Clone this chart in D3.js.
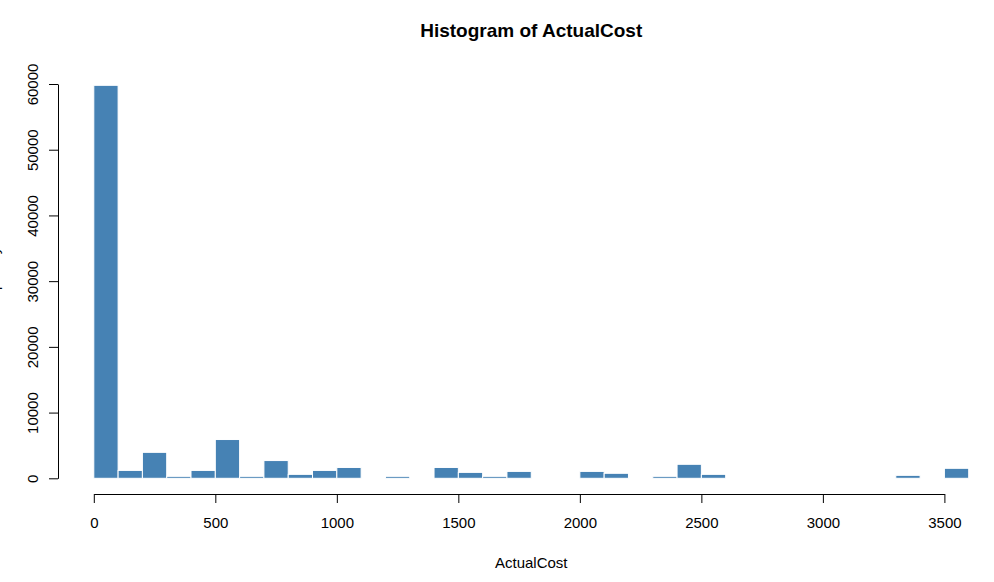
<!DOCTYPE html>
<html>
<head>
<meta charset="utf-8">
<script src="https://cdn.jsdelivr.net/npm/d3@7"></script>
<style>
  html, body { margin: 0; padding: 0; background: #fff; }
  svg { display: block; }
  text { font-family: "Liberation Sans", Arial, sans-serif; fill: #000; }
</style>
</head>
<body>
<svg id="chart" width="994" height="582"></svg>
<script>
// ---- data ----
const binStarts = d3.range(0, 3600, 100);
const counts = [
  59800, 1200, 3950, 300, 1200, 5900, 300, 2700, 600, 1200,
  1650, 0, 300, 0, 1650, 900, 300, 1050, 0, 0,
  1050, 760, 0, 300, 2130, 600, 0, 0, 0, 0,
  0, 0, 0, 450, 0, 1520
];
const binWidth = 100;
const xTicks = [0, 500, 1000, 1500, 2000, 2500, 3000, 3500];
const yTicks = [0, 10000, 20000, 30000, 40000, 50000, 60000];
const title = "Histogram of ActualCost";
const xLabel = "ActualCost";
const yLabel = "Frequency";

const bins = binStarts.map((s, i) => ({ x0: s, x1: s + binWidth, n: counts[i] }));

// ---- layout ----
const svg = d3.select("#chart");
const x = d3.scaleLinear().domain([0, 3500]).range([93.8, 944.4]);
const y = d3.scaleLinear().domain([0, 60000]).range([478.3, 84]);

// bars
svg.append("g").selectAll("rect")
  .data(bins.filter(d => d.n > 0))
  .join("rect")
  .attr("x", d => x(d.x0))
  .attr("width", d => x(d.x1) - x(d.x0))
  .attr("y", d => y(d.n))
  .attr("height", d => y(0) - y(d.n))
  .attr("fill", "#4682B4")
  .attr("stroke", "#ffffff")
  .attr("stroke-width", 1);

// x axis
const xg = svg.append("g").attr("transform", "translate(0,494)");
xg.call(d3.axisBottom(x).tickValues(xTicks).tickSize(9).tickSizeOuter(0).tickPadding(14).tickFormat(d3.format("d")));
xg.select(".domain").attr("stroke", "#000").attr("stroke-width", 1);
xg.selectAll(".tick line").attr("stroke", "#000");
xg.selectAll(".tick text").attr("font-size", "15px").attr("font-family", "Liberation Sans, Arial, sans-serif").attr("fill", "#000");

// y axis
const yg = svg.append("g").attr("transform", "translate(58,0)");
yg.call(d3.axisLeft(y).tickValues(yTicks).tickSize(9).tickSizeOuter(0).tickFormat(d3.format("d")));
yg.select(".domain").attr("stroke", "#000").attr("stroke-width", 1);
yg.selectAll(".tick line").attr("stroke", "#000");
yg.selectAll(".tick text")
  .attr("font-size", "15px")
  .attr("font-family", "Liberation Sans, Arial, sans-serif")
  .attr("fill", "#000")
  .attr("x", null).attr("dy", null)
  .attr("text-anchor", "middle")
  .attr("transform", "translate(-20,0) rotate(-90)");

// title
svg.append("text")
  .attr("x", (x(-144) + x(3744)) / 2)
  .attr("y", 37)
  .attr("text-anchor", "middle")
  .attr("font-size", "19px")
  .attr("font-weight", "bold")
  .text(title);

// x label
svg.append("text")
  .attr("x", (x(-144) + x(3744)) / 2)
  .attr("y", 568)
  .attr("text-anchor", "middle")
  .attr("font-size", "15px")
  .text(xLabel);

// y label (mostly clipped at left edge, as in the reference)
svg.append("text")
  .attr("transform", `translate(-1.5,${(y(-2388) + y(62088)) / 2}) rotate(-90)`)
  .attr("text-anchor", "middle")
  .attr("font-size", "15px")
  .text(yLabel);
</script>
</body>
</html>
